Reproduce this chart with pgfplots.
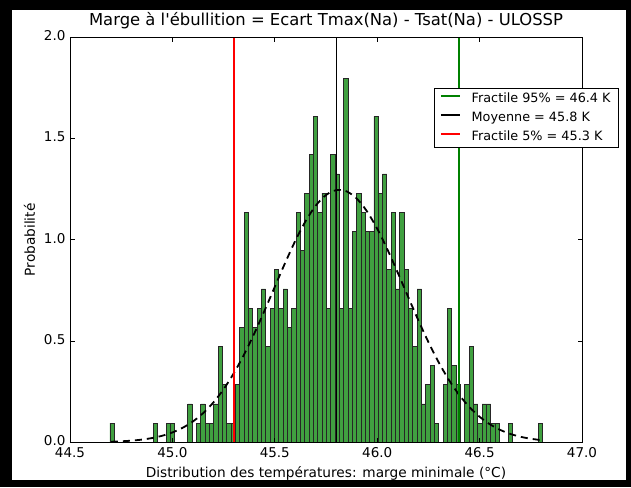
\documentclass[border=0pt]{standalone}
\usepackage{fontspec}
\setmainfont{DejaVu Sans}[Ligatures=TeXOff]
\usepackage{pgfplots}
\usepackage{pgfplotstable}
\pgfplotsset{compat=1.18}
\definecolor{mplgreen}{RGB}{0,128,0}
\definecolor{barfill}{RGB}{64,160,64}
\definecolor{mplred}{RGB}{255,0,0}
\definecolor{baredge}{RGB}{38,38,38}

\pgfplotstableread{
x y
44.6950 0.0947
44.7161 0
44.7373 0
44.7584 0
44.7795 0
44.8007 0
44.8218 0
44.8429 0
44.8640 0
44.8852 0
44.9063 0.0947
44.9274 0
44.9486 0
44.9697 0.0947
44.9908 0.0947
45.0120 0
45.0331 0
45.0542 0
45.0753 0.1893
45.0965 0
45.1176 0.0947
45.1387 0.1893
45.1599 0.0947
45.1810 0.0947
45.2021 0.1893
45.2233 0.4733
45.2444 0.2840
45.2655 0.0947
45.2866 0.0947
45.3078 0.2840
45.3289 0.5679
45.3500 1.1358
45.3712 0.6626
45.3923 0.5679
45.4134 0.6626
45.4346 0.7572
45.4557 0.4733
45.4768 0.6626
45.4979 0.8519
45.5191 0.6626
45.5402 0.7572
45.5613 0.5679
45.5825 0.6626
45.6036 1.1358
45.6247 0.9465
45.6459 1.2305
45.6670 1.4198
45.6881 1.6091
45.7092 1.1358
45.7304 1.2305
45.7515 0.6626
45.7726 1.4198
45.7938 1.3251
45.8149 0.6626
45.8360 1.7984
45.8572 0.6626
45.8783 1.0412
45.8994 1.2305
45.9205 1.1358
45.9417 1.0412
45.9628 1.0412
45.9839 1.6091
46.0051 1.2305
46.0262 1.3251
46.0473 0.8519
46.0685 1.1358
46.0896 0.7572
46.1107 1.1358
46.1318 0.8519
46.1530 0.6626
46.1741 0.4733
46.1952 0.7572
46.2164 0.1893
46.2375 0.2840
46.2586 0.3786
46.2798 0.0947
46.3009 0
46.3220 0.2840
46.3431 0.6626
46.3643 0.3786
46.3854 0.2840
46.4065 0
46.4277 0.2840
46.4488 0.4733
46.4699 0.1893
46.4911 0.0947
46.5122 0.1893
46.5333 0.1893
46.5544 0.0947
46.5756 0.0947
46.5967 0
46.6178 0
46.6390 0.0947
46.6601 0
46.6812 0
46.7024 0
46.7235 0
46.7446 0
46.7657 0
46.7869 0.0947
46.8080 0
}\histdata

\begin{document}
\begin{tikzpicture}
\fill[black] (-70pt,-44.7pt) rectangle (561pt,442.3pt);
\fill[white] (-58pt,-37.7pt) rectangle (556pt,432.3pt);
\begin{axis}[
  scale only axis, width=512pt, height=405pt,
  xmin=44.5, xmax=47.0, ymin=0, ymax=2.0,
  xtick={44.5,45.0,45.5,46.0,46.5,47.0},
  ytick={0,0.5,1.0,1.5,2.0},
  tick align=inside, xtick pos=both, ytick pos=both,
  major tick length=4.5pt,
  every tick/.style={black, line width=0.8pt},
  axis line style={line width=0.8pt, black},
  axis on top,
  ticklabel style={font=\fontsize{13.5}{16}\selectfont},
  /pgf/number format/.cd, fixed, fixed zerofill, precision=1, assume math mode=true, /pgfplots/.cd,
  yticklabel style={xshift=-1pt, yshift=1.5pt},
  xticklabel style={yshift=-1.5pt},
  title={Marge à l'ébullition = Ecart Tmax(Na) - Tsat(Na) - ULOSSP},
  title style={font=\fontsize{16.4}{20}\selectfont, at={(axis description cs:0.5,1.0131)}, anchor=base},
  xlabel={Distribution des températures: marge minimale (°C)},
  xlabel style={font=\fontsize{13.7}{16}\selectfont, at={(axis description cs:0.5,-0.0869)}, anchor=base},
  ylabel={Probabilité},
  ylabel style={font=\fontsize{13.7}{16}\selectfont, at={(axis description cs:-0.0684,0.5)}, anchor=base, rotate=0},
  legend cell align=left,
  legend style={at={(axis description cs:1.0723,0.8748)}, anchor=north east,
    font=\fontsize{12.8}{15}\selectfont, draw=black, line width=0.8pt, fill=white,
    inner xsep=6pt, inner ysep=1pt, column sep=9pt, row sep=0pt,
    nodes={inner xsep=2pt, inner ysep=3.25pt, text height=9.5pt, text depth=3pt}},
  legend image code/.code={\draw[#1, line width=1.6pt] (0pt,3pt) -- (19pt,3pt);},
]
\addplot[ybar interval, fill=barfill, draw=baredge, line width=0.8pt, forget plot] table[x=x,y=y] {\histdata};
\addplot[draw=black, line width=1.8pt, dash pattern=on 7pt off 5pt, smooth, forget plot] coordinates {
(44.70,0.0029) (44.75,0.0049) (44.80,0.0082) (44.85,0.0132) (44.90,0.0209) (44.95,0.0323)
(45.00,0.0487) (45.05,0.0716) (45.10,0.1027) (45.15,0.1439) (45.20,0.1966) (45.25,0.2623)
(45.30,0.3415) (45.35,0.4337) (45.40,0.5377) (45.45,0.6505) (45.50,0.7680) (45.55,0.8848)
(45.60,0.9948) (45.65,1.0915) (45.70,1.1687) (45.75,1.2212) (45.80,1.2453) (45.85,1.2393)
(45.90,1.2035) (45.95,1.1405) (46.00,1.0548) (46.05,0.9521) (46.10,0.8385) (46.15,0.7207)
(46.20,0.6045) (46.25,0.4949) (46.30,0.3953) (46.35,0.3082) (46.40,0.2345) (46.45,0.1741)
(46.50,0.1261) (46.55,0.0892) (46.60,0.0615) (46.65,0.0414) (46.70,0.0272) (46.75,0.0175)
(46.80,0.0109)};
\addplot[draw=mplgreen, color=mplgreen, line width=1.5pt, mark=none] coordinates {(46.4,0) (46.4,2.0)};
\addlegendentry{Fractile 95\% = 46.4 K}
\addplot[draw=black, color=black, line width=1.4pt, mark=none] coordinates {(45.8,0) (45.8,2.0)};
\addlegendentry{Moyenne = 45.8 K}
\addplot[draw=mplred, color=mplred, line width=1.5pt, mark=none] coordinates {(45.3,0) (45.3,2.0)};
\addlegendentry{Fractile 5\% = 45.3 K}
\end{axis}
\end{tikzpicture}
\end{document}
